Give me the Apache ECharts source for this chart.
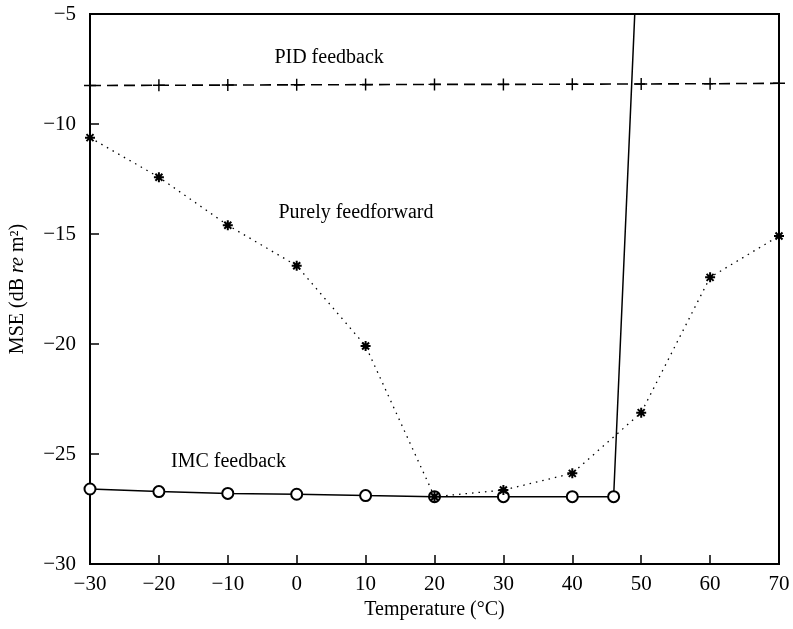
<!DOCTYPE html>
<html>
<head>
<meta charset="utf-8">
<script src="https://cdn.jsdelivr.net/npm/echarts@6/dist/echarts.min.js"></script>
<style>
  html, body { margin: 0; padding: 0; background: #fff; }
  #chart { width: 793px; height: 629px; }
</style>
</head>
<body>
<div id="chart"></div>
<script>
// temperatures (°C)
const pidTemps = [-30, -20, -10, 0, 10, 20, 30, 40, 50, 60, 70];
const pidMse = [-8.25, -8.24, -8.23, -8.22, -8.21, -8.2, -8.2, -8.19, -8.18, -8.17, -8.15];

const ffTemps = [-30, -20, -10, 0, 10, 20, 30, 40, 50, 60, 70];
const ffMse = [-10.62, -12.42, -14.6, -16.44, -20.09, -26.94, -26.64, -25.88, -23.12, -16.97, -15.09];

// last point lies far above the plot and gets clipped
const imcTemps = [-30, -20, -10, 0, 10, 20, 30, 40, 46, 50];
const imcMse = [-26.59, -26.71, -26.79, -26.83, -26.89, -26.94, -26.94, -26.94, -26.94, 1.7];

// annotation text and where it sits (data units)
const noteTexts = ['PID feedback', 'Purely feedforward', 'IMC feedback'];
const noteX = [4.7, 8.6, -9.9];
const noteY = [-7.0, -14.05, -25.36];

const xTicks = { min: -30, max: 70, step: 10 };
const yTicks = { min: -30, max: -5, step: 5 };

const FONT = 'Liberation Serif';
const minus = v => String(v).replace('-', '\u2212');
const zip = (xs, ys) => xs.map((x, i) => [x, ys[i]]);

const plusSym = 'path://M0,4.4H10V5.6H0Z M4.4,0H5.6V10H4.4Z';
const starSym = 'path://M0,5L10,5M5,0L5,10M1.5,1.5L8.5,8.5M8.5,1.5L1.5,8.5';

const chart = echarts.init(document.getElementById('chart'));

chart.setOption({
  animation: false,
  textStyle: { fontFamily: FONT, color: '#000' },
  grid: {
    left: 88, top: 14, right: 14, bottom: 65,
    show: true, borderColor: '#000', borderWidth: 2
  },
  xAxis: {
    type: 'value',
    min: xTicks.min, max: xTicks.max, interval: xTicks.step,
    name: 'Temperature (°C)',
    nameLocation: 'middle',
    nameGap: 33,
    nameTextStyle: { fontFamily: FONT, fontSize: 20, color: '#000' },
    axisLine: { onZero: false, lineStyle: { color: '#000', width: 2 } },
    axisTick: { inside: true, length: 9, lineStyle: { color: '#000', width: 1.5 } },
    axisLabel: { formatter: minus, fontFamily: FONT, fontSize: 21, color: '#000', margin: 10 },
    splitLine: { show: false }
  },
  yAxis: {
    type: 'value',
    min: yTicks.min, max: yTicks.max, interval: yTicks.step,
    name: 'MSE (dB {i|re} m²)',
    nameLocation: 'middle',
    nameGap: 62,
    nameRotate: 90,
    nameTextStyle: {
      fontFamily: FONT, fontSize: 20, color: '#000',
      rich: { i: { fontFamily: FONT, fontSize: 20, fontStyle: 'italic', color: '#000' } }
    },
    axisLine: { onZero: false, lineStyle: { color: '#000', width: 2 } },
    axisTick: { inside: true, length: 9, lineStyle: { color: '#000', width: 1.5 } },
    axisLabel: { formatter: minus, fontFamily: FONT, fontSize: 21, color: '#000', margin: 14 },
    splitLine: { show: false }
  },
  series: [
    {
      name: 'PID feedback',
      type: 'line',
      data: zip(pidTemps, pidMse),
      symbol: plusSym,
      symbolSize: 12,
      lineStyle: { color: '#000', width: 1.6, type: [11, 6] },
      itemStyle: { color: '#000' },
      z: 3
    },
    {
      name: 'IMC feedback',
      type: 'line',
      data: zip(imcTemps, imcMse),
      symbol: 'emptyCircle',
      symbolSize: 11,
      lineStyle: { color: '#000', width: 1.5 },
      itemStyle: { color: '#000', borderColor: '#000', borderWidth: 1.3 },
      clip: true,
      z: 3
    },
    {
      name: 'Purely feedforward',
      type: 'line',
      data: zip(ffTemps, ffMse),
      symbol: starSym,
      symbolSize: 10,
      lineStyle: { color: '#000', width: 1.3, type: [1.5, 5] },
      itemStyle: { color: '#000', borderColor: '#000', borderWidth: 2 },
      z: 4
    },
    {
      name: 'notes',
      type: 'scatter',
      data: noteTexts.map((t, i) => ({ value: [noteX[i], noteY[i]], name: t })),
      symbolSize: 0,
      silent: true,
      itemStyle: { opacity: 1 },
      label: {
        show: true,
        position: 'inside',
        formatter: p => p.name,
        fontFamily: FONT,
        fontSize: 20,
        color: '#000',
        opacity: 1,
        textBorderWidth: 0
      },
      z: 5
    }
  ]
});
</script>
</body>
</html>
